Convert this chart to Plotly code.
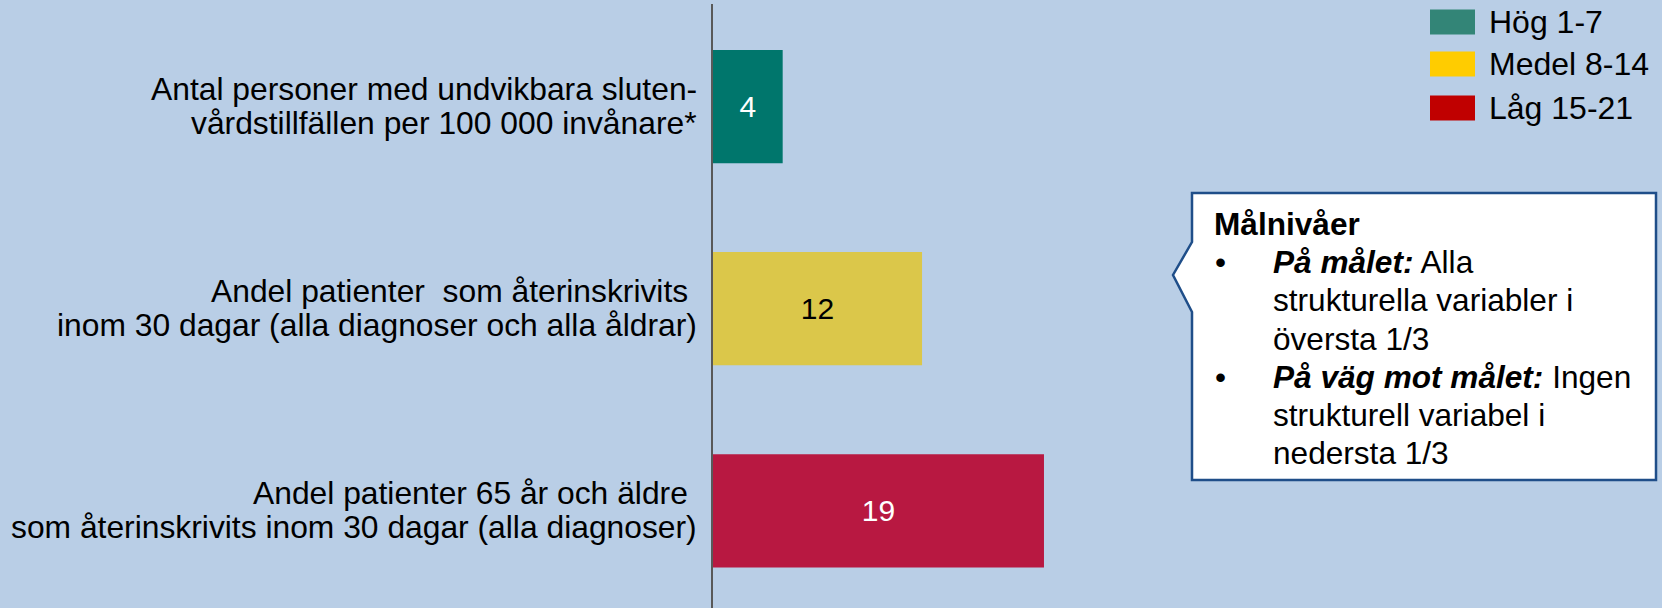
import plotly.graph_objects as go

categories = [
    "Antal personer med undvikbara sluten-<br>vårdstillfällen per 100 000 invånare*",
    "Andel patienter\u00a0 som återinskrivits\u00a0<br>inom 30 dagar (alla diagnoser och alla åldrar)",
    "Andel patienter 65 år och äldre\u00a0<br>som återinskrivits inom 30 dagar (alla diagnoser)",
]
values = [4, 12, 19]
bar_colors = ["#00766C", "#DBC74A", "#B81841"]
text_colors = ["white", "black", "white"]

legend_labels = ["Hög 1-7", "Medel 8-14", "Låg 15-21"]
legend_colors = ["#338577", "#FFCC00", "#C00000"]

callout_title = "Målnivåer"
callout_lines = [
    ("•", "<b><i>På målet:</i></b> Alla"),
    ("", "strukturella variabler i"),
    ("", "översta 1/3"),
    ("•", "<b><i>På väg mot målet:</i></b> Ingen"),
    ("", "strukturell variabel i"),
    ("", "nedersta 1/3"),
]

W, H = 1662, 608
ML, MR, MT, MB = 713, 0, 4, 0
PW, PH = W - ML - MR, H - MT - MB
FONT = "Liberation Sans, Arial, sans-serif"
BG = "#B9CEE6"


def px(x):
    return (x - ML) / PW


def py(y):
    return (H - MB - y) / PH


cat_idx = list(range(len(categories)))

fig = go.Figure()
fig.add_trace(go.Bar(
    x=values, y=cat_idx, orientation="h",
    width=0.56,
    marker=dict(color=bar_colors, line=dict(width=0)),
    text=[str(v) for v in values], textposition="inside",
    insidetextanchor="middle", textangle=0,
    textfont=dict(family=FONT, size=30, color=text_colors),
    showlegend=False, hoverinfo="skip",
))

shapes = []
annotations = []

# category labels (two lines each, tighter line spacing than tick labels)
for i, cat in enumerate(categories):
    lines = cat.split("<br>")
    n = len(lines)
    for j, ln in enumerate(lines):
        annotations.append(dict(xref="x", yref="y", x=0, y=i,
                                xanchor="right", yanchor="middle", showarrow=False,
                                xshift=-14, yshift=(n - 1) / 2 * 34 - j * 34 + 1,
                                text=ln, font=dict(family=FONT, size=31.8, color="black")))

# legend
legend_y = [22, 64, 108]
for lab, col, yc in zip(legend_labels, legend_colors, legend_y):
    shapes.append(dict(type="rect", xref="paper", yref="paper",
                       x0=px(1430), x1=px(1475), y0=py(yc + 12.5), y1=py(yc - 12.5),
                       fillcolor=col, line=dict(width=0)))
    annotations.append(dict(xref="paper", yref="paper", x=px(1487), y=py(yc),
                            xanchor="left", yanchor="middle", showarrow=False,
                            text=lab, font=dict(family=FONT, size=32, color="black")))

# callout
L, T, R, B = 1192, 193, 1656, 480
path = (f"M {px(L)},{py(T)} L {px(R)},{py(T)} L {px(R)},{py(B)} L {px(L)},{py(B)} "
        f"L {px(L)},{py(312)} L {px(1173)},{py(275)} L {px(L)},{py(242)} Z")
shapes.append(dict(type="path", xref="paper", yref="paper", path=path,
                   fillcolor="white", line=dict(color="#1F4E89", width=2.5)))
annotations.append(dict(xref="paper", yref="paper", x=px(1212), y=py(224),
                        xanchor="left", yanchor="middle", showarrow=False,
                        text=f"<b>{callout_title}</b>",
                        font=dict(family=FONT, size=31.6, color="black")))
for i, (bul, txt) in enumerate(callout_lines):
    yc = 262 + i * 38.3
    if bul:
        annotations.append(dict(xref="paper", yref="paper", x=px(1213), y=py(yc),
                                xanchor="left", yanchor="middle", showarrow=False,
                                text=bul, font=dict(family=FONT, size=31.6, color="black")))
    annotations.append(dict(xref="paper", yref="paper", x=px(1271), y=py(yc),
                            xanchor="left", yanchor="middle", showarrow=False,
                            text=txt, font=dict(family=FONT, size=31.6, color="black")))

fig.update_layout(
    width=W, height=H,
    margin=dict(l=ML, r=MR, t=MT, b=MB, pad=0),
    paper_bgcolor=BG, plot_bgcolor=BG,
    font=dict(family=FONT, size=31, color="black"),
    shapes=shapes, annotations=annotations,
    xaxis=dict(range=[0, PW / 17.42], showgrid=False, zeroline=False,
               showticklabels=False, showline=False, ticks=""),
    yaxis=dict(range=[2.48, -0.507], tickmode="array",
               tickvals=cat_idx, ticktext=[""] * len(cat_idx),
               showgrid=False, zeroline=False, showline=True,
               linecolor="#595959", linewidth=1.5, ticks="",
               showticklabels=False),
)

fig.write_html("out.html",
               config={"displayModeBar": False},
               post_script="document.body.style.margin='0';document.body.style.overflow='hidden';")
